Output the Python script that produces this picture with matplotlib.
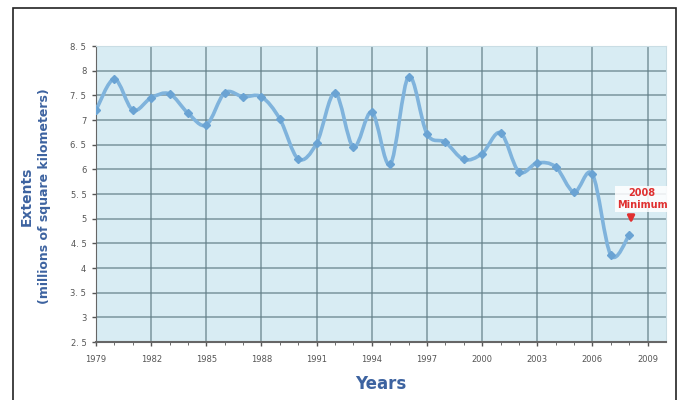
import numpy as np
import matplotlib.pyplot as plt
from matplotlib.path import Path
from matplotlib.patches import PathPatch, Rectangle

# ===============================
# Data
# ===============================
years = list(range(1979, 2009))
extent = [7.20, 7.83, 7.20, 7.45, 7.53, 7.14, 6.90, 7.55, 7.47, 7.47,
          7.02, 6.21, 6.53, 7.55, 6.45, 7.16, 6.10, 7.88, 6.72, 6.55,
          6.20, 6.32, 6.74, 5.95, 6.13, 6.05, 5.54, 5.90, 4.26, 4.67]
tick_years = list(range(1979, 2010, 3))
y_ticks = [2.5, 3, 3.5, 4, 4.5, 5, 5.5, 6, 6.5, 7, 7.5, 8, 8.5]

line_col = "#7fb3dc"
text_col = "#3d63a0"
grid_col = "#647f88"

fig = plt.figure(figsize=(6.8, 4.0), dpi=100)
fig.patches.append(Rectangle((13/680, -0.01), (676-13)/680, (400-8)/400 + 0.01,
                             transform=fig.transFigure, fill=False,
                             edgecolor="#222222", lw=1.2))

ax = fig.add_axes([96/680, 58/400, 570/680, 296/400])
ax.set_facecolor("#d8ecf3")
ax.set_xlim(1979, 2010)
ax.set_ylim(2.5, 8.5)

# smooth line through the points: cubic bezier segments (Catmull-Rom style control points)
x = np.array(years, dtype=float)
y = np.array(extent, dtype=float)
verts = [(x[0], y[0])]
codes = [Path.MOVETO]
for i in range(len(x) - 1):
    x0, y0 = (x[i-1], y[i-1]) if i > 0 else (x[i], y[i])
    x3, y3 = (x[i+2], y[i+2]) if i + 2 < len(x) else (x[i+1], y[i+1])
    c1 = (x[i] + (x[i+1] - x0) / 6, y[i] + (y[i+1] - y0) / 6)
    c2 = (x[i+1] - (x3 - x[i]) / 6, y[i+1] - (y3 - y[i]) / 6)
    verts += [c1, c2, (x[i+1], y[i+1])]
    codes += [Path.CURVE4] * 3
ax.add_patch(PathPatch(Path(verts, codes), facecolor="none", edgecolor=line_col,
                       lw=2.6, zorder=3, capstyle="round", joinstyle="round"))
ax.plot(years, extent, linestyle="none", marker="D", markersize=4.5,
        color="#6aa3d3", zorder=4)

ax.set_xticks(tick_years)
ax.set_xticklabels([str(t) for t in tick_years])
ax.set_xticks(years, minor=True)
ax.set_yticks(y_ticks)
ax.set_yticklabels([f"{v:g}".replace(".", ". ") for v in y_ticks])
ax.tick_params(axis="both", labelsize=6, colors="#555555", length=3, width=1)
ax.tick_params(axis="x", which="minor", length=2, color="#555555")
ax.tick_params(axis="x", pad=6)
ax.tick_params(axis="y", pad=4)

ax.grid(True, color=grid_col, lw=1.1, alpha=0.8)
ax.set_axisbelow(True)
for s in ["top", "right"]:
    ax.spines[s].set_color("#c9dde4")
ax.spines["left"].set_color("#666666")
ax.spines["bottom"].set_color("#666666")
ax.spines["bottom"].set_linewidth(1.5)

ax.set_xlabel("Years", fontsize=12, fontweight="bold", color=text_col, labelpad=8)
fig.text(27/680, 0.5 + 0.01, "Extents", rotation=90, ha="center", va="center",
         fontsize=10, fontweight="bold", color=text_col)
fig.text(45/680, 0.5 + 0.01, "(millions of square kilometers)", rotation=90,
         ha="center", va="center", fontsize=9, fontweight="bold", color=text_col)

ax.annotate("", xy=(years[-1] + 0.1, extent[-1] + 0.18),
            xytext=(years[-1] + 0.1, extent[-1] + 0.45),
            arrowprops=dict(arrowstyle="-|>", color="#e03030", lw=2,
                            mutation_scale=10), zorder=5)
ax.text(years[-1] + 0.7, extent[-1] + 0.73, "2008\nMinimum", ha="center", va="center",
        fontsize=7, fontweight="bold", color="#e03030", linespacing=1.2,
        bbox=dict(facecolor="white", edgecolor="none", alpha=0.85, pad=1.5), zorder=5)

plt.savefig("out.png", dpi=100)
